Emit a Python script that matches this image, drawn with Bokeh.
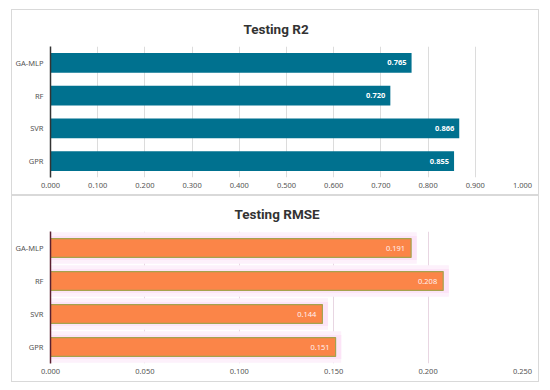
from bokeh.plotting import figure
from bokeh.layouts import column
from bokeh.models import ColumnDataSource, FactorRange, LabelSet, NumeralTickFormatter, FixedTicker, Title
from bokeh.core.properties import value
from bokeh.embed import file_html
from bokeh.resources import INLINE

models = ["GA-MLP", "RF", "SVR", "GPR"]
r2_values = [0.765, 0.720, 0.866, 0.855]
rmse_values = [0.191, 0.208, 0.144, 0.151]
r2_ticks = [0.0, 0.1, 0.2, 0.3, 0.4, 0.5, 0.6, 0.7, 0.8, 0.9, 1.0]
rmse_ticks = [0.0, 0.05, 0.10, 0.15, 0.20, 0.25]

FONT = "Noto Sans"
TFONT = "Roboto"
factors = list(reversed(models))


def base_fig(xmax, ticks, height, top, bottom, right, margin, title, toff, tstand):
    p = figure(width=528, height=height, output_backend="svg", toolbar_location=None,
               y_range=FactorRange(factors=factors, range_padding=0),
               x_range=(0, xmax), min_border_left=37, min_border_right=right,
               min_border_top=top, min_border_bottom=bottom,
               styles={"border": "1px solid #d9d9d9"}, margin=margin)
    p.add_layout(Title(text=title, align="left", offset=toff, standoff=tstand, vertical_align="top",
                       text_font=TFONT, text_font_size="13.5px", text_font_style="bold",
                       text_color="#333333"), "above")
    p.outline_line_color = None
    p.ygrid.grid_line_color = None
    p.xgrid.grid_line_color = "#dcdcdc"
    p.xaxis.ticker = FixedTicker(ticks=ticks)
    p.xaxis.formatter = NumeralTickFormatter(format="0.000")
    p.xaxis.axis_line_color = None
    p.xaxis.major_label_standoff = 5
    p.yaxis.major_label_standoff = 7
    p.yaxis.axis_line_width = 1.5
    for ax in (p.xaxis, p.yaxis):
        ax.major_tick_line_color = None
        ax.minor_tick_line_color = None
        ax.major_tick_out = 0
        ax.major_tick_in = 0
        ax.minor_tick_out = 0
        ax.minor_tick_in = 0
        ax.major_label_text_font = FONT
        ax.major_label_text_font_size = "7.5px"
        ax.major_label_text_color = "#555555"
    return p


# ---- Top: Testing R2 ----
src1 = ColumnDataSource(dict(m=models, v=r2_values, t=["%.3f" % v for v in r2_values]))
p1 = base_fig(1.0, r2_ticks, 186, 36, 19, 18, (9, 0, 0, 11), "Testing R2", 193, 16)
p1.yaxis.axis_line_color = "#333333"
p1.hbar(y="m", right="v", left=0, height=0.6, source=src1, fill_color="#00718F", line_color=None)
p1.add_layout(LabelSet(x="v", y="m", text="t", source=src1, x_offset=-5, text_align="right",
                       text_baseline="middle", text_color="white", text_font=value(FONT),
                       text_font_size="7.5px", text_font_style="bold"))

# ---- Bottom: Testing RMSE ----
src2 = ColumnDataSource(dict(m=models, v=rmse_values, t=["%.3f" % v for v in rmse_values],
                             g=[v + 0.003 for v in rmse_values]))
p2 = base_fig(0.25, rmse_ticks, 187, 35, 20, 18, (0, 0, 0, 11), "Testing RMSE", 184, 16)
p2.xgrid.grid_line_color = "#e8d6e2"
p2.yaxis.axis_line_color = "#5a2030"
p2.hbar(y="m", right="g", left=0, height=0.95, source=src2, fill_color="#FDF1FB", line_color=None)
p2.hbar(y="m", right="g", left=0, height=0.72, source=src2, fill_color="#FCE4F7", line_color=None)
p2.hbar(y="m", right="v", left=0, height=0.57, source=src2, fill_color="#FB8548",
        line_color="#A5A24E", line_width=1.2)
p2.add_layout(LabelSet(x="v", y="m", text="t", source=src2, x_offset=-6, text_align="right",
                       text_baseline="middle", text_color="#FFF0F0", text_font=value(FONT),
                       text_font_size="7.5px"))

layout = column(p1, p2, spacing=0)
open("out.html", "w").write(file_html(layout, INLINE))
